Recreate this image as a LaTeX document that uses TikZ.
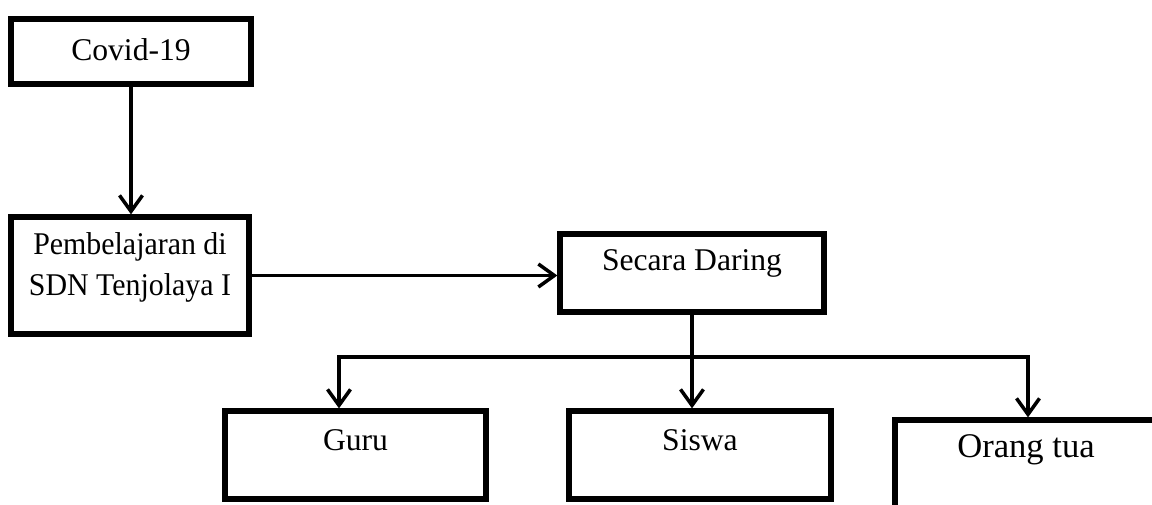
\documentclass[tikz,border=0pt]{standalone}
\usepackage{graphicx}
\usepackage{fontspec}
\setmainfont{Liberation Serif}
\usetikzlibrary{arrows.meta}

\begin{document}
\begin{tikzpicture}[x=0.02cm, y=-0.02cm]

\definecolor{boxline}{RGB}{0,0,0}

\tikzset{
  wire/.style={line width=2pt, draw=boxline},
  ar/.style={-{Straight Barb[length=3.2mm, width=4.6mm]}, line width=2pt, draw=boxline},
  box/.style={rectangle, draw=boxline, line width=3pt, inner sep=0pt},
  lab/.style={text=boxline, align=center, font=\fontsize{18}{23.2}\selectfont},
}

\newcommand{\blk}[7]{%
  \node[box, minimum width=#4*0.02cm, minimum height=#5*0.02cm] (#1) at (#2, #3) {};
  \node[lab] (#1-t) at (#2, #6) {#7};
}

\useasboundingbox (0,0) rectangle (1152,504);
\clip (0,0) rectangle (1152,504);

\blk{covid}{131}{51.5}{240}{65}{50}{Covid-19}
\blk{pemb}{130}{275.5}{238}{117}{267.5}{\scalebox{0.945}[1]{Pembelajaran di}\\\scalebox{0.945}[1]{SDN Tenjolaya I}}
\blk{daring}{692}{273}{264}{78}{263}{Secara Daring}
\blk{guru}{355.5}{455}{261}{88}{440}{Guru}
\blk{siswa}{700}{455}{262}{88}{440}{Siswa}
\blk{ortu}{1026}{465}{262}{90}{450}{\fontsize{19.7}{24}\selectfont Orang tua}

\coordinate (busL) at (339, 357);
\coordinate (busR) at (1028, 357);
\coordinate (bus) at (daring.south |- busL);

\draw[ar] (covid.south) -- (covid.south |- pemb.north);
\draw[ar] (pemb.east) -- (pemb.east -| daring.west);
\draw[wire] (daring.south) -- (bus);
\draw[ar] (bus) -- (busL) -- (busL |- guru.north);
\draw[ar] (bus) -- (bus |- siswa.north);
\draw[ar] (bus) -- (busR) -- (busR |- ortu.north);

\end{tikzpicture}
\end{document}
